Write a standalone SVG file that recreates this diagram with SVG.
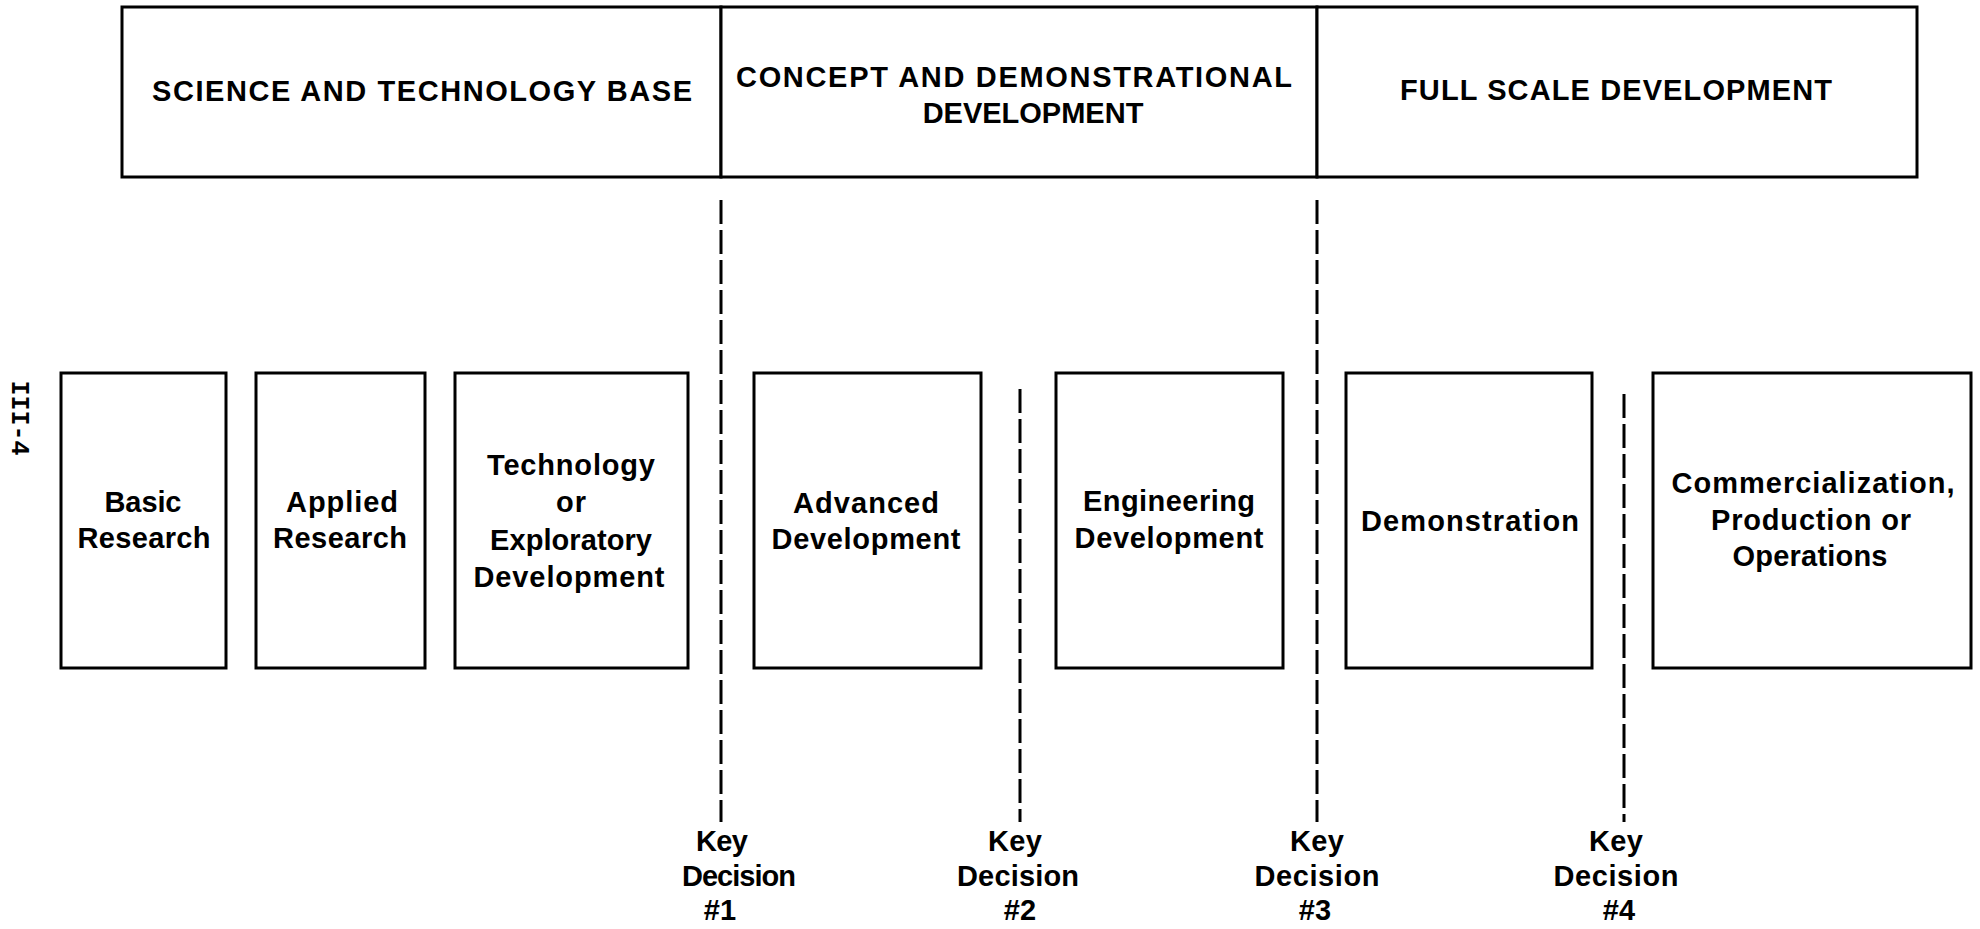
<svg xmlns="http://www.w3.org/2000/svg" width="1980" height="929" viewBox="0 0 1980 929">
<style>
.box{fill:#fff;stroke:#000;stroke-width:3}
.hdr{font-family:"Liberation Sans",Arial,sans-serif;font-weight:bold;font-size:29px;fill:#000;text-anchor:middle}
.lbl{font-family:"Liberation Sans",Arial,sans-serif;font-weight:bold;font-size:29px;fill:#000;text-anchor:middle}
.kd{fill:none;stroke:#000;stroke-width:3;stroke-dasharray:24 6}
.pg{font-family:"Liberation Mono","Courier New",monospace;font-weight:bold;font-size:25px;fill:#000;text-anchor:middle}
</style>
<rect width="1980" height="929" fill="#fff"/>
<text class="pg" transform="translate(12,418) rotate(90)">III-4</text>

<g id="phase-science-technology-base">
<rect class="box" x="122" y="7" width="599" height="170"/>
<text class="hdr" x="422" y="101" textLength="540" lengthAdjust="spacing">SCIENCE AND TECHNOLOGY BASE</text>
</g>
<g id="phase-concept-demonstrational">
<rect class="box" x="721" y="7" width="596" height="170"/>
<text class="hdr" x="1014" y="87" textLength="556" lengthAdjust="spacing">CONCEPT AND DEMONSTRATIONAL</text>
<text class="hdr" x="1033" y="123">DEVELOPMENT</text>
</g>
<g id="phase-full-scale">
<rect class="box" x="1317" y="7" width="600" height="170"/>
<text class="hdr" x="1616" y="100" textLength="432" lengthAdjust="spacing">FULL SCALE DEVELOPMENT</text>
</g>

<g id="connectors">
<line class="kd" x1="721" y1="200" x2="721" y2="822"/>
<line class="kd" x1="1020" y1="389" x2="1020" y2="822"/>
<line class="kd" x1="1317" y1="200" x2="1317" y2="822"/>
<line class="kd" x1="1624" y1="394" x2="1624" y2="822"/>
</g>

<g id="basic-research">
<rect class="box" x="61" y="373" width="165" height="295"/>
<text class="lbl" x="143" y="512" textLength="77" lengthAdjust="spacing">Basic</text>
<text class="lbl" x="144" y="548" textLength="133" lengthAdjust="spacing">Research</text>
</g>
<g id="applied-research">
<rect class="box" x="256" y="373" width="169" height="295"/>
<text class="lbl" x="342" y="512" textLength="112" lengthAdjust="spacing">Applied</text>
<text class="lbl" x="340" y="548" textLength="134" lengthAdjust="spacing">Research</text>
</g>
<g id="technology-exploratory">
<rect class="box" x="455" y="373" width="233" height="295"/>
<text class="lbl" x="571" y="475" textLength="168" lengthAdjust="spacing">Technology</text>
<text class="lbl" x="571" y="512" textLength="30" lengthAdjust="spacing">or</text>
<text class="lbl" x="571" y="550" textLength="162" lengthAdjust="spacing">Exploratory</text>
<text class="lbl" x="569" y="587" textLength="191" lengthAdjust="spacing">Development</text>
</g>
<g id="advanced-development">
<rect class="box" x="754" y="373" width="227" height="295"/>
<text class="lbl" x="866" y="513" textLength="146" lengthAdjust="spacing">Advanced</text>
<text class="lbl" x="866" y="549" textLength="189" lengthAdjust="spacing">Development</text>
</g>
<g id="engineering-development">
<rect class="box" x="1056" y="373" width="227" height="295"/>
<text class="lbl" x="1169" y="511" textLength="172" lengthAdjust="spacing">Engineering</text>
<text class="lbl" x="1169" y="548" textLength="189" lengthAdjust="spacing">Development</text>
</g>
<g id="demonstration">
<rect class="box" x="1346" y="373" width="246" height="295"/>
<text class="lbl" x="1470" y="531" textLength="218" lengthAdjust="spacing">Demonstration</text>
</g>
<g id="commercialization">
<rect class="box" x="1653" y="373" width="318" height="295"/>
<text class="lbl" x="1813" y="493" textLength="283" lengthAdjust="spacing">Commercialization,</text>
<text class="lbl" x="1811" y="530" textLength="200" lengthAdjust="spacing">Production or</text>
<text class="lbl" x="1810" y="566" textLength="155" lengthAdjust="spacing">Operations</text>
</g>

<g id="key-decision-1">
<text class="lbl" x="722" y="851" textLength="52" lengthAdjust="spacing">Key</text>
<text class="lbl" x="739" y="886" textLength="114" lengthAdjust="spacing">Decision</text>
<text class="lbl" x="720" y="920">#1</text>
</g>
<g id="key-decision-2">
<text class="lbl" x="1015" y="851" textLength="54" lengthAdjust="spacing">Key</text>
<text class="lbl" x="1018" y="886" textLength="122" lengthAdjust="spacing">Decision</text>
<text class="lbl" x="1020" y="920">#2</text>
</g>
<g id="key-decision-3">
<text class="lbl" x="1317" y="851" textLength="54" lengthAdjust="spacing">Key</text>
<text class="lbl" x="1317" y="886" textLength="125" lengthAdjust="spacing">Decision</text>
<text class="lbl" x="1315" y="920">#3</text>
</g>
<g id="key-decision-4">
<text class="lbl" x="1616" y="851" textLength="54" lengthAdjust="spacing">Key</text>
<text class="lbl" x="1616" y="886" textLength="125" lengthAdjust="spacing">Decision</text>
<text class="lbl" x="1619" y="920">#4</text>
</g>
</svg>
